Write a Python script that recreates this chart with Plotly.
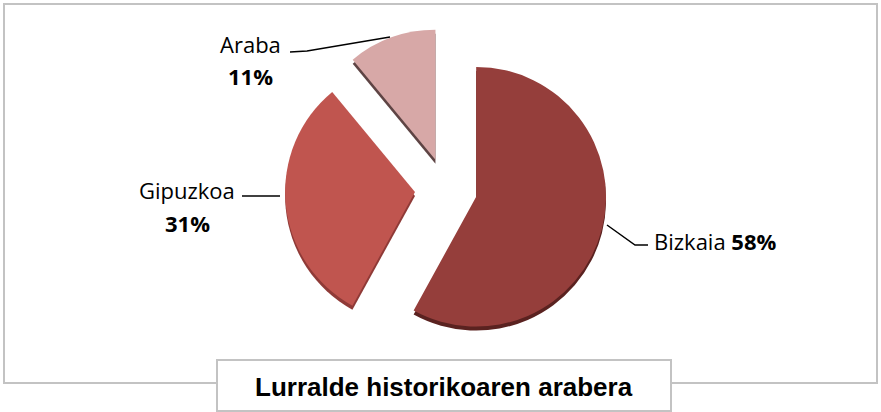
import plotly.graph_objects as go

labels = ["Bizkaia", "Gipuzkoa", "Araba"]
values = [58, 31, 11]
colors = ["#953e3b", "#c0554f", "#d7a8a7"]
rim_colors = ["#5a2220", "#8f3a37", "#5e4444"]
title_text = "Lurralde historikoaren arabera"

W, H = 881, 412
cx, cy, half = 446, 189, 161
pull = 0.24
shadow_dy = 4

def dom(cx, cy, half):
    return dict(x=[(cx - half) / W, (cx + half) / W],
                y=[1 - (cy + half) / H, 1 - (cy - half) / H])

fig = go.Figure()
fig.add_trace(go.Scatter(x=[None], y=[None], showlegend=False, hoverinfo="skip"))
fig.add_trace(go.Pie(labels=labels, values=values, sort=False, direction="clockwise",
                     rotation=0, pull=[pull] * 3, textinfo="none", hoverinfo="skip",
                     marker=dict(colors=rim_colors, line=dict(width=0)),
                     domain=dom(cx, cy + shadow_dy, half), showlegend=False))
fig.add_trace(go.Pie(labels=labels, values=values, sort=False, direction="clockwise",
                     rotation=0, pull=[pull] * 3, textinfo="none",
                     marker=dict(colors=colors, line=dict(width=0)),
                     domain=dom(cx, cy, half), showlegend=False))

font = dict(family="Open Sans", size=22, color="#000000")

shapes = [
    dict(type="rect", x0=4, y0=4, x1=877, y1=383, line=dict(color="#c3c3c3", width=2), layer="below"),
    dict(type="rect", x0=217, y0=360, x1=671, y1=411, line=dict(color="#c3c3c3", width=2),
         fillcolor="white", layer="above"),
    dict(type="path", path="M 290 52 L 307 51 L 390 37", line=dict(color="#000", width=1.5)),
    dict(type="path", path="M 242 196 L 280 196", line=dict(color="#000", width=1.5)),
    dict(type="path", path="M 607 225 L 635 245 L 648 245", line=dict(color="#000", width=1.5)),
]

annotations = [
    dict(x=250, y=44, text=labels[2], showarrow=False, font=font),
    dict(x=250, y=76, text=f"<b>{values[2]}%</b>", showarrow=False, font=font),
    dict(x=187, y=190, text=labels[1], showarrow=False, font=font),
    dict(x=187, y=223, text=f"<b>{values[1]}%</b>", showarrow=False, font=font),
    dict(x=652, y=241, text=f"{labels[0]} <b>{values[0]}%</b>", showarrow=False, font=font,
         xanchor="left"),
    dict(x=444, y=387, text=f"<b>{title_text}</b>", showarrow=False,
         font=dict(family="Liberation Sans", size=26, color="#000")),
]

fig.update_layout(
    width=W, height=H, margin=dict(l=0, r=0, t=0, b=0),
    paper_bgcolor="white", plot_bgcolor="rgba(0,0,0,0)",
    xaxis=dict(range=[0, W], visible=False, fixedrange=True, domain=[0, 1]),
    yaxis=dict(range=[H, 0], visible=False, fixedrange=True, domain=[0, 1]),
    shapes=shapes, annotations=annotations,
)
fig.write_html("out.html", config=dict(displayModeBar=False),
               post_script="document.body.style.margin='0';document.body.style.padding='0';")
